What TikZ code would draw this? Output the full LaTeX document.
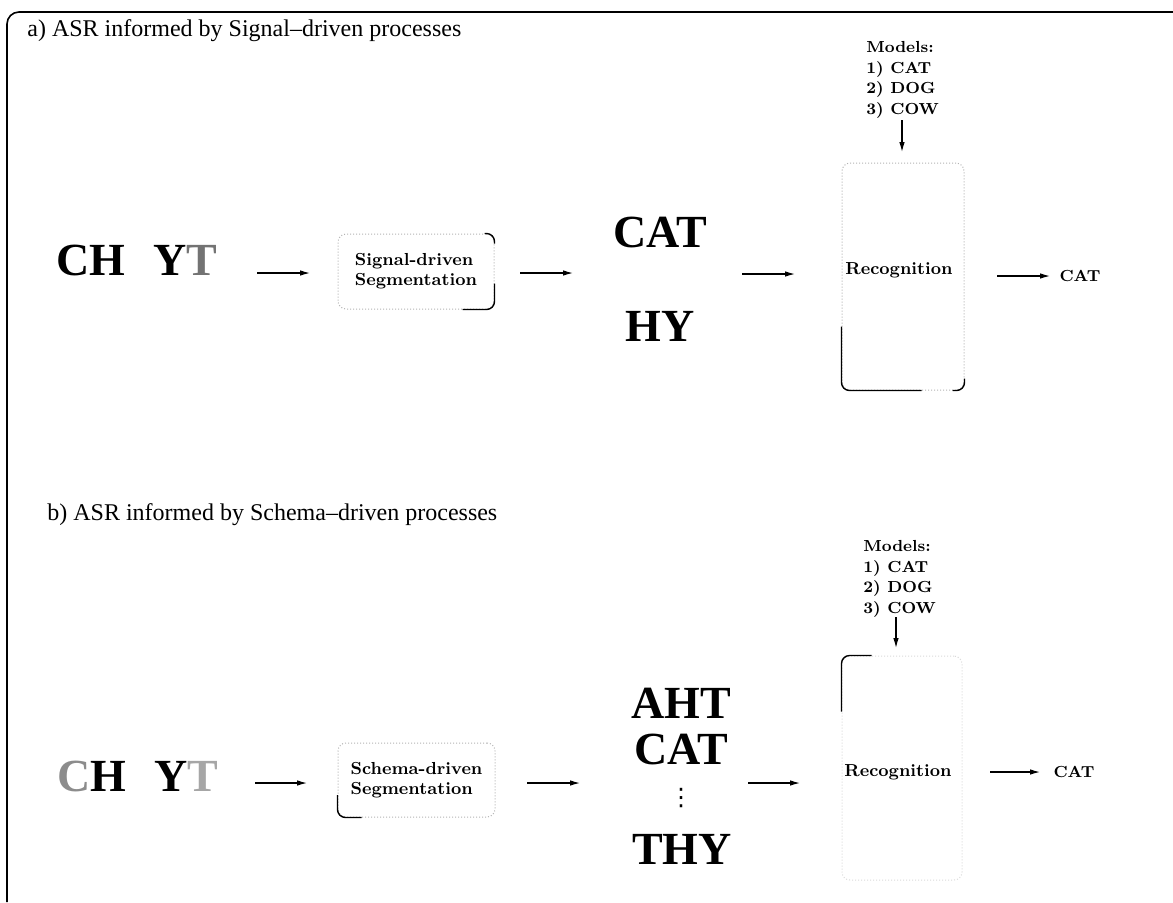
\documentclass[tikz,border=0pt]{standalone}
\usepackage{fontspec}
\newfontfamily\timesfont{Liberation Serif}
\newfontfamily\symfont{DejaVu Sans}
\usetikzlibrary{arrows.meta}

\begin{document}
\begin{tikzpicture}[x=0.5pt, y=-0.5pt,
  flow/.style={->, >={Latex[length=5pt,width=2.8pt]}, line width=0.6pt},
  faintbox/.style={draw=black!30, densely dotted, line width=0.5pt, rounded corners=4pt},
  inked/.style={line width=0.7pt, rounded corners=4pt},
  heading/.style={font=\timesfont\fontsize{12}{14}\selectfont, anchor=base west, inner sep=0pt},
  bigword/.style={font=\timesfont\bfseries\fontsize{23}{26}\selectfont, inner sep=0pt},
  stage/.style={font=\fontsize{8.7}{10}\selectfont\bfseries, align=left},
  models/.style={font=\fontsize{8}{10.3}\selectfont\bfseries, align=left, anchor=north west, inner sep=0pt},
  outword/.style={font=\fontsize{8}{10}\selectfont\bfseries, inner sep=0pt},
]
\useasboundingbox (0,0) rectangle (1173,902);

% Outer frame (only top and left edges show)
\draw[line width=0.8pt, rounded corners=6pt] (7,902) -- (7,12) -- (1173,12);

% ---------------- a) Signal-driven ----------------
\node[heading] (titleA) at (27,36) {a) ASR informed by Signal–driven processes};

\node[bigword] (inA) at (137,260) {CH\hspace{14pt}Y\textcolor{black!55}{T}};
\node[faintbox, stage, minimum width=78pt, minimum height=37.5pt] (segA) at (416,271.5) {Signal-driven\\Segmentation};
\node[bigword] (catA) at (660,232) {CAT};
\node[bigword] (hyA) at (660,326) {HY};
\node[faintbox, minimum width=61pt, minimum height=113.5pt] (recA) at (903,276.5) {};
\node[stage] (recAtxt) at (899,270) {Recognition};
\node[outword] (outA) at (1080,276) {CAT};
\node[models] (modA) at (866,41) {Models:\\1) CAT\\2) DOG\\3) COW};

% darker bits of the scanned boxes
\draw[inked] ([yshift=-6pt]segA.east) |- ([xshift=-16pt]segA.south east);
\draw[inked] ([xshift=-5pt]segA.north east) -| ([yshift=-5pt]segA.north east);
\draw[inked] ([yshift=-25pt]recA.west) |- ([xshift=40pt]recA.south west);
\draw[inked] ([xshift=-6pt]recA.south east) -| ([yshift=6pt]recA.south east);

% arrows
\coordinate (a1s) at (257,273); \coordinate (a1e) at (310,273);
\coordinate (a2s) at (520,273); \coordinate (a2e) at (573,273);
\coordinate (a3s) at (742,274); \coordinate (a3e) at (795,274);
\coordinate (a4s) at (997,276); \coordinate (a4e) at (1050,276);
\coordinate (amS) at (902,120); \coordinate (amE) at (902,152);
\draw[flow] (a1s) -- (a1e);
\draw[flow] (a2s) -- (a2e);
\draw[flow] (a3s) -- (a3e);
\draw[flow] (a4s) -- (a4e);
\draw[flow] (amS) -- (amE);

% ---------------- b) Schema-driven ----------------
\node[heading] (titleB) at (47,520) {b) ASR informed by Schema–driven processes};

\node[bigword] (inB) at (138,776) {\textcolor{black!45}{C}H\hspace{14pt}Y\textcolor{black!35}{T}};
\node[faintbox, stage, minimum width=78.5pt, minimum height=37pt] (segB) at (416.5,780) {Schema-driven\\Segmentation};
\node[bigword] (ahtB) at (681,703) {AHT};
\node[bigword] (catB) at (681,749) {CAT};
\node[font=\symfont\fontsize{12}{12}\selectfont, inner sep=0pt] (dotsB) at (681,798) {⋮};
\node[bigword] (thyB) at (682,849) {THY};
\node[faintbox, draw=black!15, minimum width=60pt, minimum height=112pt] (recB) at (902,768) {};
\node[stage] (recBtxt) at (898,772) {Recognition};
\node[outword] (outB) at (1074,772) {CAT};
\node[models] (modB) at (863,540) {Models:\\1) CAT\\2) DOG\\3) COW};

% darker bits of the scanned boxes
\draw[inked] ([yshift=-7.5pt]segB.west) |- ([xshift=12pt]segB.south west);
\draw[inked] ([xshift=15pt]recB.north west) -| ([yshift=-28pt]recB.north west);

% arrows
\coordinate (b1s) at (255,783); \coordinate (b1e) at (307,783);
\coordinate (b2s) at (527,783); \coordinate (b2e) at (580,783);
\coordinate (b3s) at (748,783); \coordinate (b3e) at (800,783);
\coordinate (b4s) at (990,772); \coordinate (b4e) at (1040,772);
\coordinate (bmS) at (896,617); \coordinate (bmE) at (896,648);
\draw[flow] (b1s) -- (b1e);
\draw[flow] (b2s) -- (b2e);
\draw[flow] (b3s) -- (b3e);
\draw[flow] (b4s) -- (b4e);
\draw[flow] (bmS) -- (bmE);
\end{tikzpicture}
\end{document}
